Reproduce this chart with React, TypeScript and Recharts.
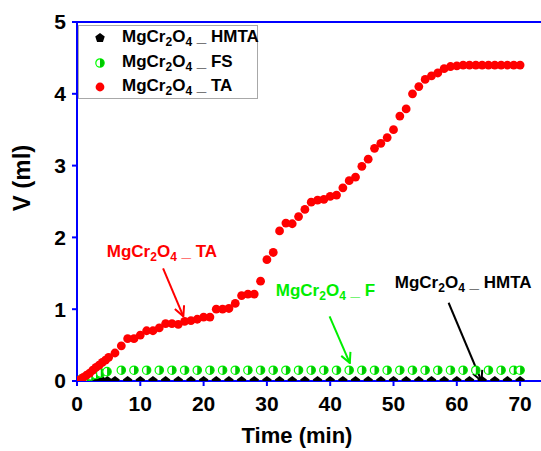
import {
  ScatterChart,
  Scatter,
  XAxis,
  YAxis,
  Legend,
  ReferenceLine,
  ReferenceDot,
} from 'recharts';

// Time (min) / V (ml)
const hmtaTime = [0, 0.8, 1.6, 2.4, 3.2, 4, 4.8, 6, 8, 10, 12, 14, 16, 18, 20, 22, 24, 26, 28, 30, 32, 34, 36, 38, 40, 42, 44, 46, 48, 50, 52, 54, 56, 58, 60, 62, 64, 66, 68, 70];
const hmtaVolume = [0, 0, 0, 0, 0, 0, 0, 0, 0, 0, 0, 0, 0, 0, 0, 0, 0, 0, 0, 0, 0, 0, 0, 0, 0, 0, 0, 0, 0, 0, 0, 0, 0, 0, 0, 0, 0, 0, 0, 0];

const fsTime = [0, 0.75, 1.5, 2.25, 3, 3.75, 4.75, 7, 9, 11, 13, 15, 17, 19, 21, 23, 25, 27, 29, 31, 33, 35, 37, 39, 41, 43, 45, 47, 49, 51, 53, 55, 57, 59, 61, 63, 65, 67, 69, 70];
const fsVolume = [0, 0.03, 0.05, 0.07, 0.09, 0.11, 0.13, 0.15, 0.15, 0.15, 0.15, 0.15, 0.15, 0.15, 0.15, 0.15, 0.15, 0.15, 0.15, 0.15, 0.15, 0.15, 0.15, 0.15, 0.15, 0.15, 0.15, 0.15, 0.15, 0.15, 0.15, 0.15, 0.15, 0.15, 0.15, 0.15, 0.15, 0.15, 0.15, 0.15];

const taTime = [0, 0.5, 1, 1.5, 2, 2.5, 3, 3.5, 4, 4.5, 5, 6, 7, 8, 9, 10, 11, 12, 13, 14, 15, 16, 17, 18, 19, 20, 21, 22, 23, 24, 25, 26, 27, 28, 29, 30, 31, 32, 33, 34, 35, 36, 37, 38, 39, 40, 41, 42, 43, 44, 45, 46, 47, 48, 49, 50, 51, 52, 53, 54, 55, 56, 57, 58, 59, 60, 61, 62, 63, 64, 65, 66, 67, 68, 69, 70];
const taVolume = [0, 0.02, 0.05, 0.08, 0.11, 0.15, 0.19, 0.22, 0.26, 0.29, 0.33, 0.39, 0.49, 0.59, 0.59, 0.64, 0.7, 0.7, 0.74, 0.8, 0.8, 0.79, 0.83, 0.84, 0.86, 0.89, 0.89, 1.0, 1.0, 1.01, 1.08, 1.19, 1.21, 1.21, 1.39, 1.69, 1.79, 2.09, 2.2, 2.19, 2.29, 2.39, 2.49, 2.52, 2.53, 2.57, 2.59, 2.69, 2.79, 2.84, 2.99, 3.09, 3.24, 3.31, 3.39, 3.5, 3.69, 3.79, 4.0, 4.1, 4.2, 4.25, 4.29, 4.35, 4.38, 4.39, 4.4, 4.4, 4.4, 4.4, 4.4, 4.4, 4.4, 4.4, 4.4, 4.4];

const xTicks = [0, 10, 20, 30, 40, 50, 60, 70];
const yTicks = [0, 1, 2, 3, 4, 5];
const yMinorTicks = [0.5, 1.5, 2.5, 3.5, 4.5];

// annotation text anchors and arrows (data coords)
const noteSuffix = ['TA', 'F', 'HMTA'];
const noteColor = ['#ff0000', '#00ee00', '#000000'];
const noteX = [4.7, 31.4, 50.2];
const noteY = [1.73, 1.18, 1.29];
const arrowFrom = [[13.6, 1.57], [39.9, 0.9], [58.7, 1.09]];
const arrowTo = [[16.8, 0.9], [43.1, 0.25], [63.9, 0.0]];

const FONT = '"Liberation Sans", Arial, sans-serif';
const BLUE = '#0000ff';
const GREEN = '#00ff00';

const toPoints = (xs: number[], ys: number[]) => xs.map((x, i) => ({ x, y: ys[i] }));

const hmtaData = toPoints(hmtaTime, hmtaVolume);
const fsData = toPoints(fsTime, fsVolume);
const taData = toPoints(taTime, taVolume);

function pentagon(cx: number, cy: number, r: number) {
  const pts = [];
  for (let k = 0; k < 5; k++) {
    const a = (-90 + 72 * k) * Math.PI / 180;
    pts.push(`${cx + r * Math.cos(a)},${cy + r * Math.sin(a)}`);
  }
  return pts.join(' ');
}

const HmtaDot = ({ cx, cy }: any) => <polygon points={pentagon(cx, cy, 5)} fill="#000" />;

const FsDot = ({ cx, cy }: any) => {
  const r = 4.2;
  return (
    <g>
      <circle cx={cx} cy={cy} r={r} fill="#fff" stroke={GREEN} strokeWidth={1.2} />
      <path d={`M${cx},${cy - r} A${r},${r} 0 0 1 ${cx},${cy + r} Z`} fill="#00c800" />
    </g>
  );
};

const TaDot = ({ cx, cy }: any) => <circle cx={cx} cy={cy} r={4.4} fill="#ff0000" />;

// MgCr2O4 with subscripts, drawn as svg text
const Formula = ({ x, y, color, suffix }: any) => (
  <text x={x} y={y} fill={color} fontFamily={FONT} fontWeight="bold" fontSize={17}>
    <tspan>MgCr</tspan>
    <tspan dy={4} fontSize={12}>2</tspan>
    <tspan dy={-4}>O</tspan>
    <tspan dy={4} fontSize={12}>4</tspan>
    <tspan dy={-4}>{'\u00a0_\u00a0' + suffix}</tspan>
  </text>
);

const legendRows = [
  { name: 'HMTA', Dot: HmtaDot },
  { name: 'FS', Dot: FsDot },
  { name: 'TA', Dot: TaDot },
];

const LegendBox = () => (
  <div
    style={{
      width: 180,
      height: 74,
      boxSizing: 'border-box',
      border: '1px solid #a8a8a8',
      background: '#fff',
      fontFamily: FONT,
      fontWeight: 'bold',
      fontSize: 17,
      color: '#000',
    }}
  >
    {legendRows.map(({ name, Dot }) => (
      <div key={name} style={{ height: 24.5, display: 'flex', alignItems: 'center' }}>
        <svg width={40} height={14} style={{ flex: 'none' }}>
          <Dot cx={21} cy={7} />
        </svg>
        <span style={{ marginLeft: 3, whiteSpace: 'nowrap' }}>
          MgCr<sub style={{ fontSize: 12 }}>2</sub>O<sub style={{ fontSize: 12 }}>4</sub> _ {name}
        </span>
      </div>
    ))}
  </div>
);

const tickStyle = { fill: '#000', fontSize: 21, fontWeight: 'bold', fontFamily: FONT };

export default function App() {
  return (
    <div style={{ position: 'absolute', left: 0, top: 0, width: 541, height: 451, overflow: 'hidden', background: '#fff' }}>
      <ScatterChart width={541} height={451} margin={{ top: 22, right: 0, left: 0, bottom: 0 }}>
        <defs>
          {noteColor.map((c, i) => (
            <marker
              key={i}
              id={`arrow${i}`}
              viewBox="0 0 12 12"
              refX={11}
              refY={6}
              markerWidth={12}
              markerHeight={12}
              markerUnits="userSpaceOnUse"
              orient="auto"
            >
              <path d="M1,1 L11,6 L1,11" fill="none" stroke={c} strokeWidth={2} />
            </marker>
          ))}
        </defs>
        <XAxis
          type="number"
          dataKey="x"
          domain={[0, 73.3]}
          ticks={xTicks}
          allowDataOverflow
          height={70}
          stroke={BLUE}
          strokeWidth={2}
          tickSize={5}
          tickMargin={10}
          tick={tickStyle}
          label={() => (
            <text x={297} y={443} textAnchor="middle" fill="#000" fontFamily={FONT} fontWeight="bold" fontSize={22}>
              Time (min)
            </text>
          )}
        />
        <YAxis
          type="number"
          dataKey="y"
          domain={[0, 5]}
          ticks={yTicks}
          allowDataOverflow
          width={77}
          stroke={BLUE}
          strokeWidth={2}
          tickSize={5}
          tickMargin={6}
          tick={tickStyle}
          label={() => (
            <text
              transform="translate(30,178) rotate(-90)"
              textAnchor="middle"
              fill="#000"
              fontFamily={FONT}
              fontWeight="bold"
              fontSize={24}
            >
              V (ml)
            </text>
          )}
        />
        <YAxis
          yAxisId="minor"
          type="number"
          domain={[0, 5]}
          ticks={yMinorTicks}
          width={1}
          mirror
          axisLine={false}
          tick={false}
          tickSize={4}
          stroke={BLUE}
          strokeWidth={2}
        />
        <ReferenceLine y={5} stroke={BLUE} strokeWidth={2} />
        <Legend
          content={LegendBox}
          layout="vertical"
          align="center"
          verticalAlign="middle"
          wrapperStyle={{ left: 78, top: 25, width: 180, height: 74 }}
        />
        <Scatter name="HMTA" data={hmtaData} shape={HmtaDot} isAnimationActive={false} />
        <Scatter name="FS" data={fsData} shape={FsDot} isAnimationActive={false} />
        <Scatter name="TA" data={taData} shape={TaDot} isAnimationActive={false} />
        {noteSuffix.map((s, i) => (
          <ReferenceLine
            key={`a${i}`}
            segment={[
              { x: arrowFrom[i][0], y: arrowFrom[i][1] },
              { x: arrowTo[i][0], y: arrowTo[i][1] },
            ]}
            stroke={noteColor[i]}
            strokeWidth={2}
            markerEnd={`url(#arrow${i})`}
          />
        ))}
        {noteSuffix.map((s, i) => (
          <ReferenceDot
            key={`t${i}`}
            x={noteX[i]}
            y={noteY[i]}
            r={1}
            shape={(p: any) => <Formula x={p.cx} y={p.cy} color={noteColor[i]} suffix={s} />}
          />
        ))}
      </ScatterChart>
    </div>
  );
}
